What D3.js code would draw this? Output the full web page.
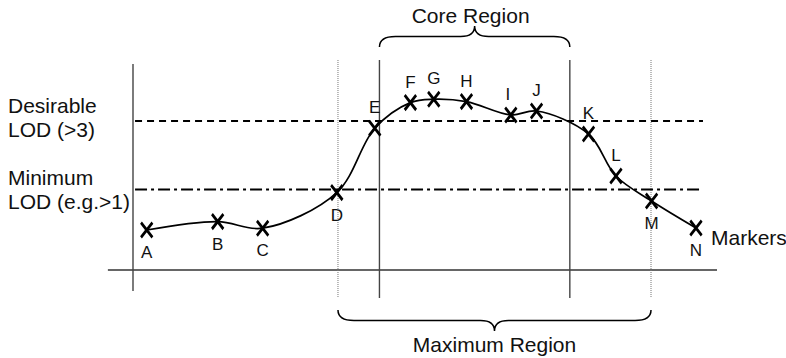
<!DOCTYPE html>
<html>
<head>
<meta charset="utf-8">
<script src="https://cdn.jsdelivr.net/npm/d3@7"></script>
<style>
  body { margin: 0; background: #fff; }
  text { font-family: "Liberation Sans", Arial, Helvetica, sans-serif; fill: #111; }
</style>
</head>
<body>
<div id="chart"></div>
<script>
// Markers along the map position (0-100) and their score (0-100 chart units)
const markerNames = ['A', 'B', 'C', 'D', 'E', 'F', 'G', 'H', 'I', 'J', 'K', 'L', 'M', 'N'];
const markerPos = [2.35, 14.5, 22.2, 34.9, 41.4, 47.5, 51.5, 57.1, 64.7, 69.1, 78.0, 82.7, 88.8, 96.4];
const markerScore = [20, 24.2, 20.9, 38.7, 70.9, 83.7, 85.4, 84.2, 77.5, 79.5, 68, 47, 34.5, 21];
const labelBelow = ['A', 'B', 'C', 'D', 'M', 'N'];

// LOD thresholds
const thresholdLabels = [['Desirable', 'LOD (>3)'], ['Minimum', 'LOD (e.g.>1)']];
const thresholdValues = [74.5, 40.25];
const thresholdDash = ['7,5', '12,4,3,4'];

// Regions: core (solid bounds, brace on top) and maximum (dotted bounds, brace below)
const regionNames = ['Core Region', 'Maximum Region'];
const regionStart = [42.2, 35.1];
const regionEnd = [74.8, 88.7];

const width = 786;
const height = 358;
const svg = d3.select("#chart").append("svg")
    .attr("width", width)
    .attr("height", height);

const x = d3.scaleLinear().domain([0, 100]).range([133, 717]);
const y = d3.scaleLinear().domain([0, 100]).range([270, 70]);

const markers = markerNames.map((name, i) => ({ name, pos: markerPos[i], score: markerScore[i] }));

// axes
svg.append("line")
    .attr("x1", x(-4.3)).attr("x2", x(100))
    .attr("y1", y(0)).attr("y2", y(0))
    .attr("stroke", "#333").attr("stroke-width", 1.3);
svg.append("line")
    .attr("x1", x(0)).attr("x2", x(0))
    .attr("y1", y(103)).attr("y2", y(-10.5))
    .attr("stroke", "#444").attr("stroke-width", 1.4);

// region boundaries
regionNames.forEach((name, i) => {
    const core = i === 0;
    [regionStart[i], regionEnd[i]].forEach(v => {
        svg.append("line")
            .attr("x1", x(v)).attr("x2", x(v))
            .attr("y1", y(105)).attr("y2", y(core ? -14 : -13.5))
            .attr("stroke", core ? "#444" : "#777")
            .attr("stroke-width", core ? 1.4 : 1)
            .attr("stroke-dasharray", core ? null : "1,1");
    });
});

// threshold lines + labels
thresholdValues.forEach((v, i) => {
    svg.append("line")
        .attr("x1", x(0.35)).attr("x2", x(97.6))
        .attr("y1", y(v)).attr("y2", y(v))
        .attr("stroke", "#000").attr("stroke-width", 2)
        .attr("stroke-dasharray", thresholdDash[i]);
    const off = i === 0 ? [-8, 16] : [-5, 19];
    thresholdLabels[i].forEach((t, j) => {
        svg.append("text")
            .attr("x", 8)
            .attr("y", y(v) + off[j])
            .attr("font-size", 21)
            .text(t);
    });
});

// braces
function brace(x0, x1, y0, dir) {
    const p = d3.path();
    const xm = (x0 + x1) / 2;
    const yh = y0 + dir * 10.5;
    const yt = y0 + dir * 21;
    p.moveTo(x0, y0);
    p.quadraticCurveTo(x0, yh, x0 + 16, yh);
    p.lineTo(xm - 14, yh);
    p.quadraticCurveTo(xm, yh, xm, yt);
    p.quadraticCurveTo(xm, yh, xm + 14, yh);
    p.lineTo(x1 - 16, yh);
    p.quadraticCurveTo(x1, yh, x1, y0);
    return p.toString();
}

svg.append("path")
    .attr("d", brace(x(regionStart[0]), x(regionEnd[0]), 47, -1))
    .attr("fill", "none").attr("stroke", "#000").attr("stroke-width", 1.5);
svg.append("text")
    .attr("x", (x(regionStart[0]) + x(regionEnd[0])) / 2 - 4)
    .attr("y", 23)
    .attr("text-anchor", "middle")
    .attr("font-size", 21)
    .text(regionNames[0]);

svg.append("path")
    .attr("d", brace(x(regionStart[1]), x(regionEnd[1]), 310, 1))
    .attr("fill", "none").attr("stroke", "#000").attr("stroke-width", 1.5);
svg.append("text")
    .attr("x", (x(regionStart[1]) + x(regionEnd[1])) / 2)
    .attr("y", 352)
    .attr("text-anchor", "middle")
    .attr("font-size", 21)
    .text(regionNames[1]);

// score curve
const line = d3.line()
    .x(d => x(d.pos))
    .y(d => y(d.score))
    .curve(d3.curveCatmullRom.alpha(0.5));

svg.append("path")
    .datum(markers)
    .attr("d", line)
    .attr("fill", "none")
    .attr("stroke", "#000")
    .attr("stroke-width", 1.7);

// markers: bold X, a bit taller than wide
const symbol = d3.symbol().type(d3.symbolX).size(120);
svg.selectAll(".marker")
    .data(markers)
    .join("path")
    .attr("class", "marker")
    .attr("transform", d => `translate(${x(d.pos)},${y(d.score)}) scale(0.85,1.1)`)
    .attr("d", symbol)
    .attr("fill", "none")
    .attr("stroke", "#000")
    .attr("stroke-width", 3);

svg.selectAll(".marker-label")
    .data(markers)
    .join("text")
    .attr("class", "marker-label")
    .attr("x", d => x(d.pos) + (d.name === 'I' ? -3 : 0))
    .attr("y", d => labelBelow.includes(d.name) ? y(d.score) + 28 : y(d.score) - 15)
    .attr("text-anchor", "middle")
    .attr("font-size", 17)
    .text(d => d.name);

const last = markers[markers.length - 1];
svg.append("text")
    .attr("x", x(last.pos) + 15)
    .attr("y", y(last.score) + 17)
    .attr("font-size", 21)
    .text("Markers");
</script>
</body>
</html>
